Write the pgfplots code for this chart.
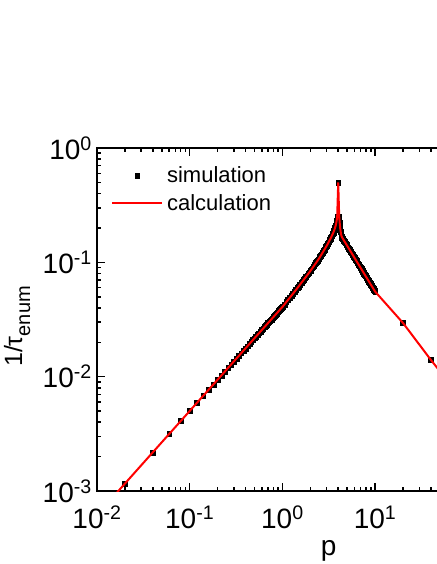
\documentclass[border=0pt]{standalone}
\usepackage{fontspec}
\setmainfont{Liberation Sans}
\usepackage{pgfplots}
\pgfplotsset{compat=1.18}
\usepackage{pgfplotstable}

% p versus 1/tau_enum (first and last rows only feed the line)
\pgfplotstableread{
p y
0.01 0.000617
0.02 0.00116
0.04 0.00218
0.06 0.00315
0.08 0.00409
0.10 0.00501
0.12 0.00592
0.14 0.00681
0.16 0.00769
0.18 0.00855
0.20 0.00942
0.22 0.01026
0.24 0.01111
0.26 0.01197
0.28 0.01279
0.30 0.01362
0.32 0.01445
0.34 0.01524
0.36 0.01607
0.38 0.0169
0.40 0.0177
0.42 0.0185
0.44 0.0193
0.46 0.0201
0.48 0.0209
0.50 0.0217
0.52 0.02247
0.54 0.02325
0.56 0.02403
0.58 0.02481
0.60 0.02560
0.62 0.02637
0.64 0.02714
0.66 0.02791
0.68 0.02868
0.70 0.02944
0.72 0.03020
0.74 0.03097
0.76 0.03172
0.78 0.03249
0.80 0.03324
0.82 0.03400
0.84 0.03475
0.86 0.03550
0.88 0.03626
0.90 0.03700
0.92 0.03776
0.94 0.03850
0.96 0.03925
0.98 0.03999
1.00 0.0407
1.05 0.0428
1.10 0.0449
1.15 0.04695
1.20 0.0490
1.25 0.0511
1.30 0.0532
1.35 0.0553
1.40 0.0574
1.45 0.05955
1.50 0.0617
1.55 0.0639
1.60 0.0661
1.65 0.0683
1.70 0.0705
1.75 0.07265
1.80 0.0748
1.85 0.0771
1.90 0.0794
1.95 0.08165
2.00 0.0839
2.05 0.0863
2.10 0.0887
2.15 0.09125
2.20 0.0938
2.25 0.0962
2.30 0.0986
2.35 0.1012
2.40 0.1038
2.45 0.10635
2.50 0.1089
2.55 0.11185
2.60 0.1148
2.65 0.1178
2.70 0.1208
2.75 0.1238
2.80 0.1268
2.85 0.1299
2.90 0.1330
2.95 0.13615
3.00 0.1393
3.05 0.14275
3.10 0.1462
3.15 0.1500
3.20 0.1538
3.25 0.15745
3.30 0.1611
3.35 0.16525
3.40 0.1694
3.45 0.1736
3.50 0.1778
3.55 0.18285
3.60 0.1879
3.65 0.19415
3.70 0.2004
3.75 0.2091
3.80 0.2178
3.85 0.2320
3.90 0.250
4.00 0.500
4.10 0.250
4.15 0.222
4.20 0.200
4.25 0.186
4.30 0.175
4.35 0.169
4.40 0.1653
4.50 0.1605
4.60 0.1558
4.70 0.1514
4.80 0.1473
4.90 0.1433
5.00 0.1395
5.10 0.1358
5.20 0.1324
5.30 0.1291
5.40 0.1259
5.50 0.1229
5.60 0.1200
5.70 0.1172
5.80 0.1145
5.90 0.1119
6.00 0.1094
6.10 0.1071
6.20 0.1048
6.30 0.1026
6.40 0.1005
6.50 0.0984
6.60 0.0965
6.70 0.0945
6.80 0.0927
6.90 0.0909
7.00 0.0892
7.10 0.0875
7.20 0.0859
7.30 0.0843
7.40 0.0828
7.50 0.0813
7.60 0.0799
7.70 0.0786
7.80 0.0772
7.90 0.0759
8.00 0.0746
8.10 0.0734
8.20 0.0722
8.30 0.0711
8.40 0.0700
8.50 0.0689
8.60 0.0678
8.70 0.0668
8.80 0.0658
8.90 0.0648
9.00 0.0638
9.10 0.0629
9.20 0.0620
9.30 0.0611
9.40 0.0603
9.50 0.0594
9.60 0.0586
9.70 0.0578
9.80 0.0570
9.90 0.0562
10.0 0.0555
20 0.0295
40 0.0140
60 0.0093
100 0.0056
}\datatab

\begin{document}
\begin{tikzpicture}
\begin{axis}[
    name=main,
    at={(0pt,0pt)}, anchor=south west,
    scale only axis,
    width=463.5pt, height=343pt,
    xmode=log, ymode=log,
    xmin=0.01, xmax=1000,
    ymin=0.001, ymax=1,
    clip marker paths=true,
    xtick={0.01,0.1,1,10,100,1000},
    xticklabels={10\textsuperscript{-2},10\textsuperscript{-1},10\textsuperscript{0},10\textsuperscript{1},{},{}},
    ytick={0.001,0.01,0.1,1},
    yticklabels={10\textsuperscript{-3},10\textsuperscript{-2},10\textsuperscript{-1},10\textsuperscript{0}},
    tick align=inside,
    major tick length=8pt,
    minor tick length=4.5pt,
    every tick/.style={black, line width=1.5pt},
    axis line style={line width=2.4pt},
    ticklabel style={font=\fontsize{28}{32}\selectfont, inner sep=0pt},
    xticklabel shift=15pt,
    yticklabel shift=5pt,
    xlabel={p},
    xlabel style={at={(axis description cs:0.5,-0.1429)}, anchor=north, inner sep=0pt, font=\fontsize{28}{32}\selectfont},
    ylabel={1/τ\raisebox{-8pt}{\fontsize{20}{22}\selectfont enum}},
    ylabel style={at={(axis description cs:-0.172,0.4796)}, anchor=center, inner sep=0pt, font=\fontsize{25}{28}\selectfont},
    legend style={draw=none, fill=none, at={(axis description cs:0.030,0.952)}, anchor=north west,
        font=\fontsize{22}{26}\selectfont, inner sep=0pt, row sep=6pt, column sep=2pt,
        nodes={inner sep=2pt}},
    legend cell align=left,
    legend image code/.code={\draw[mark repeat=2,mark phase=2,#1] plot coordinates {(0pt,0pt) (25pt,0pt) (50pt,0pt)};},
]
\addplot[only marks, mark=square*, mark size=2.4pt, black, skip coords between index={0}{1}]
    table[x=p, y=y] {\datatab};
\addlegendentry{simulation}
\addplot[red, line width=2pt, no marks] table[x=p, y=y] {\datatab};
\addlegendentry{calculation}
\end{axis}
\pgfresetboundingbox
\path[use as bounding box] ([xshift=-97pt,yshift=-73pt]main.south west) rectangle ([xshift=339pt,yshift=491pt]main.south west);
\end{tikzpicture}
\end{document}
